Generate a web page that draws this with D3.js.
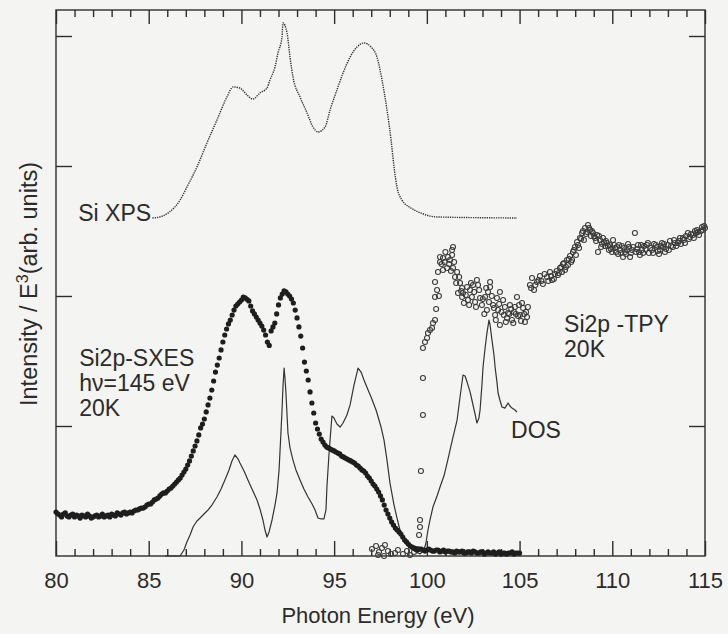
<!DOCTYPE html>
<html>
<head>
<meta charset="utf-8">
<script src="https://cdn.jsdelivr.net/npm/d3@7"></script>
<style>
  html, body { margin: 0; padding: 0; background: #f4f4f2; }
  svg { display: block; }
  text { font-family: "Liberation Sans", Arial, Helvetica, sans-serif; fill: #2b2b2b; }
</style>
</head>
<body>
<svg id="chart" width="728" height="634"></svg>
<script>
// Photon energy (eV) vs. intensity / E^3 (arb. units)

// Si XPS valence band (dotted trace)
const xpsSpectrum = [
  [85.2,2.600],[85.6,2.608],[86.04,2.638],[86.69,2.738],[87.06,2.838],[87.60,2.992],[88.14,3.177],[88.68,3.354],
  [89.22,3.531],[89.55,3.608],[89.92,3.600],[90.30,3.546],[90.62,3.515],[91.00,3.562],[91.38,3.600],[91.54,3.662],
  [91.81,3.762],[91.97,3.869],[92.19,3.992],[92.24,4.100],[92.46,4.023],[92.62,3.838],[92.78,3.685],[93.16,3.531],
  [93.54,3.408],[93.86,3.300],[94.13,3.262],[94.51,3.300],[94.78,3.431],[95.15,3.585],[95.48,3.715],[95.86,3.838],
  [96.23,3.915],[96.61,3.946],[96.99,3.915],[97.31,3.838],[97.58,3.662],[97.85,3.431],[98.07,3.200],[98.23,2.992],
  [98.39,2.838],[98.66,2.738],[99.14,2.677],[99.68,2.638],[100.55,2.608],[104.86,2.600]
];

// Si2p soft X-ray emission, hv = 145 eV, 20 K (filled dots, 0.1 eV steps)
const sxesSpectrum = [
  [80.0,0.338],[80.1,0.325],[80.2,0.315],[80.3,0.300],[80.4,0.323],[80.5,0.331],[80.6,0.308],[80.7,0.300],[80.8,0.315],[80.9,0.323],
  [81.0,0.300],[81.1,0.315],[81.2,0.308],[81.3,0.292],[81.4,0.315],[81.5,0.308],[81.6,0.300],[81.7,0.323],[81.8,0.308],[81.9,0.292],
  [82.0,0.300],[82.1,0.308],[82.2,0.315],[82.3,0.300],[82.4,0.308],[82.5,0.323],[82.6,0.300],[82.7,0.308],[82.8,0.315],[82.9,0.300],
  [83.0,0.323],[83.1,0.315],[83.2,0.308],[83.3,0.331],[83.4,0.323],[83.5,0.315],[83.6,0.331],[83.7,0.338],[83.8,0.323],[83.9,0.331],
  [84.0,0.338],[84.1,0.331],[84.2,0.346],[84.3,0.354],[84.4,0.354],[84.5,0.362],[84.6,0.369],[84.7,0.369],[84.8,0.377],[84.9,0.392],
  [85.0,0.400],[85.1,0.400],[85.2,0.415],[85.3,0.431],[85.4,0.438],[85.5,0.446],[85.6,0.462],[85.7,0.477],[85.8,0.485],[85.9,0.485],
  [86.0,0.500],[86.1,0.515],[86.2,0.523],[86.3,0.538],[86.4,0.554],[86.5,0.569],[86.6,0.585],[86.7,0.600],[86.8,0.623],[86.9,0.646],
  [87.0,0.669],[87.1,0.700],[87.2,0.731],[87.3,0.769],[87.4,0.808],[87.5,0.846],[87.6,0.885],[87.7,0.931],[87.8,0.985],[87.9,1.015],
  [88.0,1.054],[88.1,1.108],[88.2,1.162],[88.3,1.215],[88.4,1.277],[88.5,1.346],[88.6,1.415],[88.7,1.469],[88.8,1.523],[88.9,1.585],
  [89.0,1.646],[89.1,1.700],[89.2,1.746],[89.3,1.785],[89.4,1.815],[89.5,1.854],[89.6,1.892],[89.7,1.923],[89.8,1.938],[89.9,1.954],
  [90.0,1.969],[90.1,1.992],[90.2,1.985],[90.3,1.975],[90.4,1.962],[90.5,1.923],[90.6,1.885],[90.7,1.862],[90.8,1.838],[90.9,1.815],
  [91.0,1.792],[91.1,1.769],[91.2,1.738],[91.3,1.700],[91.4,1.646],[91.5,1.620],[91.6,1.731],[91.7,1.762],[91.8,1.792],[91.9,1.862],
  [92.0,1.931],[92.1,1.985],[92.2,2.015],[92.3,2.040],[92.4,2.031],[92.5,2.015],[92.6,2.000],[92.7,1.977],[92.8,1.946],[92.9,1.892],
  [93.0,1.831],[93.1,1.762],[93.2,1.692],[93.3,1.600],[93.4,1.492],[93.5,1.423],[93.6,1.354],[93.7,1.262],[93.8,1.177],[93.9,1.100],
  [94.0,1.023],[94.1,0.977],[94.2,0.938],[94.3,0.900],[94.4,0.877],[94.5,0.854],[94.6,0.838],[94.7,0.831],[94.8,0.823],[94.9,0.815],
  [95.0,0.808],[95.1,0.800],[95.2,0.792],[95.3,0.785],[95.4,0.769],[95.5,0.762],[95.6,0.754],[95.7,0.746],[95.8,0.738],[95.9,0.731],
  [96.0,0.723],[96.1,0.715],[96.2,0.700],[96.3,0.692],[96.4,0.677],[96.5,0.662],[96.6,0.654],[96.7,0.638],[96.8,0.615],[96.9,0.600],
  [97.0,0.577],[97.1,0.554],[97.2,0.538],[97.3,0.515],[97.4,0.492],[97.5,0.462],[97.6,0.431],[97.7,0.392],[97.8,0.354],[97.9,0.323],
  [98.0,0.292],[98.1,0.262],[98.2,0.238],[98.3,0.215],[98.4,0.200],[98.5,0.185],[98.6,0.169],[98.7,0.146],[98.8,0.123],[98.9,0.108],
  [99.0,0.092],[99.1,0.077],[99.2,0.069],[99.3,0.062],[99.4,0.054],[99.5,0.046],[99.6,0.054],[99.7,0.054],[99.8,0.046],[99.9,0.038],
  [100.0,0.046],[100.1,0.054],[100.2,0.046],[100.3,0.038],[100.4,0.038],[100.5,0.046],[100.6,0.046],[100.7,0.031],[100.8,0.038],[100.9,0.046],
  [101.0,0.031],[101.1,0.038],[101.2,0.038],[101.3,0.031],[101.4,0.031],[101.5,0.023],[101.6,0.038],[101.7,0.031],[101.8,0.031],[101.9,0.038],
  [102.0,0.023],[102.1,0.023],[102.2,0.031],[102.3,0.031],[102.4,0.023],[102.5,0.038],[102.6,0.031],[102.7,0.023],[102.8,0.023],[102.9,0.031],
  [103.0,0.031],[103.1,0.015],[103.2,0.023],[103.3,0.031],[103.4,0.023],[103.5,0.023],[103.6,0.031],[103.7,0.015],[103.8,0.023],[103.9,0.031],
  [104.0,0.015],[104.1,0.023],[104.2,0.023],[104.3,0.015],[104.4,0.023],[104.5,0.023],[104.6,0.031],[104.7,0.015],[104.8,0.023],[104.9,0.023],
  [105.0,0.023]
];

// Si2p total photoelectron yield, 20 K (open circles)
const tpySpectrum = [
  [97.04,0.054],[97.26,0.077],[97.37,0.008],[97.42,0.031],[97.58,0.062],[97.69,0.000],[97.74,0.085],[97.90,0.038],
  [98.07,0.015],[98.28,0.023],[98.44,0.046],[98.71,0.015],[98.93,0.038],[99.09,0.008],[99.31,0.031],[99.47,0.054],
  [99.58,0.162],[99.63,0.223],[99.63,0.277],[99.68,0.654],[99.79,1.085],[99.79,1.369],[99.79,1.600],[99.90,1.646],
  [100.01,1.677],[100.06,1.715],[100.17,1.738],[100.28,1.754],[100.33,1.792],[100.44,1.815],[100.44,1.992],[100.55,2.046],
  [100.44,2.108],[100.60,2.185],[100.71,2.262],[100.71,2.300],[100.87,2.292],[100.87,2.200],[101.09,2.215],[101.14,2.300],
  [101.25,2.277],[101.36,2.354],[101.36,2.315],[101.41,2.377],[101.41,2.215],[101.52,2.146],[101.63,2.185],[101.68,2.023],
  [101.79,2.100],[101.90,2.062],[101.90,1.992],[101.95,2.023],[102.17,2.069],[102.22,1.969],[102.33,2.046],[102.43,1.992],
  [102.49,2.085],[102.60,1.954],[102.70,2.123],[102.76,2.085],[102.87,1.985],[102.97,1.931],[103.14,1.992],[103.24,1.892],
  [103.30,2.031],[103.41,2.108],[103.41,2.069],[103.57,1.931],[103.68,1.854],[103.78,1.985],[103.84,1.892],[103.94,2.031],
  [103.94,1.777],[104.11,1.969],[104.21,1.915],[104.32,1.831],[104.38,1.869],[104.48,1.931],[104.59,1.815],[104.70,1.877],
  [104.75,1.915],[104.86,1.992],[104.92,1.846],[105.02,1.854],[105.13,1.946],[105.19,1.908],[105.29,1.800],[105.35,1.877],
  [105.45,1.915],
  [100.50,1.900],[100.65,2.000],[100.80,2.246],[100.95,2.262],[101.00,2.338],[101.20,2.246],[101.30,2.192],[101.47,2.262],
  [101.58,2.100],[101.74,2.146],[101.85,2.038],[102.00,1.946],[102.10,2.008],[102.28,1.931],[102.38,2.100],[102.55,2.031],
  [102.65,1.915],[102.82,2.046],[103.02,1.977],[103.10,1.862],[103.20,2.062],[103.35,1.954],[103.50,2.000],[103.62,1.908],
  [103.72,1.815],[103.90,1.938],[104.02,1.877],[104.15,1.854],[104.26,1.800],[104.44,1.862],[104.55,1.900],[104.66,1.792],
  [104.80,1.862],[104.97,1.931],[105.08,1.808],[105.25,1.862],[105.40,1.838],
  [105.56,2.085],[105.67,2.138],[105.78,2.046],[105.94,2.108],[106.10,2.154],[106.26,2.092],[106.48,2.146],[106.64,2.185],
  [106.75,2.123],[106.91,2.169],[107.07,2.162],[107.18,2.215],[107.29,2.185],[107.34,2.246],[107.45,2.200],[107.56,2.277],
  [107.61,2.238],[107.72,2.308],[107.83,2.277],[107.88,2.338],[107.99,2.377],[108.04,2.315],[108.10,2.415],[108.21,2.369],
  [108.26,2.446],[108.37,2.485],[108.47,2.431],[108.53,2.523],[108.64,2.492],[108.69,2.546],[108.80,2.508],[108.85,2.462],
  [108.96,2.485],[109.07,2.446],[109.18,2.469],[109.23,2.338],[109.34,2.431],[109.45,2.400],[109.50,2.446],[109.61,2.385],
  [109.72,2.408],[109.82,2.354],[109.88,2.392],[109.98,2.338],[110.04,2.431],[110.15,2.369],[110.25,2.377],[110.31,2.323],
  [110.42,2.354],[110.52,2.385],[110.58,2.300],[110.69,2.338],[110.79,2.354],[110.85,2.400],[110.96,2.300],[111.06,2.354],
  [111.22,2.485],[111.28,2.338],[111.39,2.392],[111.49,2.315],[111.60,2.354],[111.71,2.385],[111.87,2.392],[111.98,2.331],
  [112.14,2.354],[112.25,2.400],[112.41,2.377],[112.52,2.323],[112.57,2.354],[112.68,2.408],[112.74,2.377],[112.84,2.338],
  [113.00,2.392],[113.11,2.423],[113.27,2.377],[113.38,2.408],[113.54,2.408],[113.65,2.446],[113.81,2.446],[113.92,2.408],
  [114.08,2.485],[114.19,2.454],[114.35,2.469],[114.46,2.500],[114.57,2.508],[114.68,2.469],[114.84,2.531],[114.89,2.508],
  [115.00,2.523],
  [105.62,2.062],[105.85,2.085],[106.02,2.123],[106.18,2.115],[106.35,2.169],[106.55,2.115],[106.70,2.154],[106.85,2.131],
  [107.00,2.192],[107.12,2.177],[107.25,2.223],[107.40,2.254],[107.50,2.223],[107.66,2.285],[107.78,2.262],[107.93,2.354],
  [108.15,2.392],[108.32,2.438],[108.42,2.500],[108.58,2.477],[108.75,2.523],[108.90,2.500],[109.02,2.462],[109.13,2.423],
  [109.28,2.462],[109.40,2.377],[109.55,2.415],[109.66,2.423],[109.77,2.385],[109.93,2.362],[110.10,2.392],[110.20,2.338],
  [110.36,2.392],[110.47,2.331],[110.63,2.369],[110.74,2.323],[110.90,2.377],[111.01,2.331],[111.12,2.377],[111.33,2.362],
  [111.44,2.338],[111.55,2.392],[111.66,2.331],[111.80,2.362],[111.92,2.408],[112.05,2.369],[112.20,2.331],[112.35,2.392],
  [112.46,2.346],[112.62,2.385],[112.79,2.400],[112.90,2.362],[113.05,2.354],[113.17,2.385],[113.33,2.431],[113.45,2.385],
  [113.60,2.423],[113.70,2.400],[113.86,2.431],[113.97,2.462],[114.13,2.438],[114.25,2.477],[114.40,2.446],[114.52,2.485],
  [114.62,2.492],[114.78,2.500],[114.95,2.538]
];

// Calculated density of states (solid line)
const dosCurve = [
  [85.88,0.000],[86.69,0.000],[86.90,0.046],[87.06,0.108],[87.23,0.162],[87.39,0.223],[87.60,0.269],[87.77,0.292],
  [87.98,0.323],[88.20,0.354],[88.41,0.392],[88.68,0.454],[88.90,0.515],[89.11,0.585],[89.33,0.662],[89.49,0.731],
  [89.65,0.777],[89.82,0.746],[89.92,0.715],[90.14,0.654],[90.35,0.585],[90.57,0.515],[90.84,0.431],[91.00,0.362],
  [91.16,0.277],[91.27,0.200],[91.38,0.146],[91.49,0.185],[91.65,0.277],[91.81,0.392],[91.92,0.485],[92.03,0.662],
  [92.13,0.946],[92.19,1.123],[92.24,1.300],[92.30,1.446],[92.35,1.369],[92.40,1.254],[92.46,1.085],[92.51,0.946],
  [92.62,0.831],[92.78,0.738],[92.94,0.662],[93.16,0.585],[93.37,0.515],[93.59,0.454],[93.81,0.400],[93.97,0.354],
  [94.13,0.292],[94.29,0.285],[94.45,0.285],[94.56,0.354],[94.61,0.531],[94.72,0.777],[94.78,0.892],[94.88,1.077],
  [94.99,1.062],[95.15,1.015],[95.32,0.992],[95.48,1.023],[95.69,1.085],[95.86,1.162],[96.07,1.315],[96.29,1.446],
  [96.45,1.415],[96.61,1.354],[96.83,1.277],[96.99,1.223],[97.26,1.123],[97.53,0.992],[97.69,0.892],[97.85,0.738],
  [98.01,0.562],[98.23,0.392],[98.39,0.292],[98.55,0.200],[98.77,0.123],[98.93,0.092],[99.20,0.054],[99.41,0.031],
  [99.63,0.015],[99.85,0.046],[99.95,0.100],[100.06,0.200],[100.17,0.277],[100.33,0.377],[100.55,0.462],[100.71,0.531],
  [100.92,0.615],[101.09,0.715],[101.25,0.815],[101.41,0.915],[101.63,1.046],[101.79,1.223],[101.95,1.392],[102.06,1.385],
  [102.17,1.338],[102.33,1.262],[102.43,1.200],[102.60,1.092],[102.70,1.023],[102.81,1.062],[102.87,1.123],[102.97,1.315],
  [103.03,1.454],[103.14,1.600],[103.24,1.715],[103.35,1.815],[103.41,1.777],[103.51,1.662],[103.62,1.546],[103.68,1.454],
  [103.78,1.338],[103.84,1.254],[103.94,1.200],[104.05,1.146],[104.21,1.138],[104.32,1.162],[104.38,1.177],[104.48,1.154],
  [104.59,1.138],[104.75,1.123],[104.86,1.108]
];

// Axis ticks
const xMajorTicks = [80, 85, 90, 95, 100, 105, 110, 115];
const xMinorTicks = d3.range(81, 115).filter(v => v % 5 !== 0);
const yTicks = [1, 2, 3, 4];

// Curve annotations
const annotations = [
  { lines: ["Si XPS"], e: 81.2, v: 2.577 },
  { lines: ["Si2p-SXES", "h\u03bd=145 eV", "20K"], e: 81.25, v: 1.462 },
  { lines: ["Si2p -TPY", "20K"], e: 107.4, v: 1.723 },
  { lines: ["DOS"], e: 104.54, v: 0.908 }
];

const svg = d3.select("#chart");
const W = 728, H = 634;
const plotLeft = 56, plotRight = 705, plotTop = 10, plotBottom = 556;

svg.append("rect").attr("width", W).attr("height", H).attr("fill", "#f4f4f2");

const x = d3.scaleLinear().domain([80, 115]).range([plotLeft, plotRight]);
const y = d3.scaleLinear().domain([0, 4.2]).range([plotBottom, plotTop]);

const ink = "#2e2e2e";

// frame
svg.append("rect")
  .attr("x", plotLeft).attr("y", plotTop)
  .attr("width", plotRight - plotLeft).attr("height", plotBottom - plotTop)
  .attr("fill", "none").attr("stroke", ink).attr("stroke-width", 1.4);

function styleAxis(g) {
  g.select(".domain").remove();
  g.selectAll(".tick line").attr("stroke", ink).attr("stroke-width", 1.4);
}

// bottom axis: labelled major ticks and minor ticks, pointing inward
svg.append("g").attr("transform", `translate(0,${plotBottom})`)
  .call(d3.axisBottom(x).tickValues(xMajorTicks).tickSize(-15).tickPadding(16).tickFormat(d3.format("d")))
  .call(styleAxis)
  .call(g => g.selectAll("text").attr("font-size", 22).attr("fill", "#2b2b2b")
    .attr("font-family", "Liberation Sans, Arial, sans-serif"));
svg.append("g").attr("transform", `translate(0,${plotBottom})`)
  .call(d3.axisBottom(x).tickValues(xMinorTicks).tickSize(-7).tickFormat(""))
  .call(styleAxis);

// top axis
svg.append("g").attr("transform", `translate(0,${plotTop})`)
  .call(d3.axisTop(x).tickValues(xMajorTicks).tickSize(-14).tickFormat(""))
  .call(styleAxis);
svg.append("g").attr("transform", `translate(0,${plotTop})`)
  .call(d3.axisTop(x).tickValues(xMinorTicks).tickSize(-7).tickFormat(""))
  .call(styleAxis);

// left and right axes
svg.append("g").attr("transform", `translate(${plotLeft},0)`)
  .call(d3.axisLeft(y).tickValues(yTicks).tickSize(-16).tickFormat(""))
  .call(styleAxis);
svg.append("g").attr("transform", `translate(${plotRight},0)`)
  .call(d3.axisRight(y).tickValues(yTicks).tickSize(-16).tickFormat(""))
  .call(styleAxis);

// axis titles
svg.append("text")
  .attr("x", 378).attr("y", 623)
  .attr("text-anchor", "middle").attr("font-size", 22)
  .text("Photon Energy (eV)");

const yTitle = svg.append("text")
  .attr("transform", "translate(37,284) rotate(-90)")
  .attr("text-anchor", "middle").attr("font-size", 23.5);
yTitle.append("tspan").text("Intensity / E");
yTitle.append("tspan").attr("font-size", 16).attr("dy", -9).text("3");
yTitle.append("tspan").attr("dy", 9).text("(arb. units)");

// DOS solid line
svg.append("path")
  .datum(dosCurve)
  .attr("fill", "none").attr("stroke", "#333").attr("stroke-width", 1.2)
  .attr("stroke-linejoin", "round")
  .attr("d", d3.line().x(d => x(d[0])).y(d => y(d[1])));

// XPS dotted line
svg.append("path")
  .datum(xpsSpectrum)
  .attr("fill", "none").attr("stroke", "#333").attr("stroke-width", 1.4)
  .attr("stroke-dasharray", "1.3,1")
  .attr("d", d3.line().curve(d3.curveMonotoneX).x(d => x(d[0])).y(d => y(d[1])));

// TPY open circles
svg.append("g").selectAll("circle")
  .data(tpySpectrum).join("circle")
  .attr("cx", d => x(d[0])).attr("cy", d => y(d[1])).attr("r", 2.5)
  .attr("fill", "none").attr("stroke", "#3c3c3c").attr("stroke-width", 1.1);

// SXES filled dots
svg.append("g").selectAll("circle")
  .data(sxesSpectrum).join("circle")
  .attr("cx", d => x(d[0])).attr("cy", d => y(d[1])).attr("r", 2.6)
  .attr("fill", "#1e1e1e");

// labels
annotations.forEach(a => {
  const t = svg.append("text").attr("font-size", 23);
  a.lines.forEach((line, i) => {
    t.append("tspan").attr("x", x(a.e)).attr("y", y(a.v) + i * 25).text(line);
  });
});
</script>
</body>
</html>
